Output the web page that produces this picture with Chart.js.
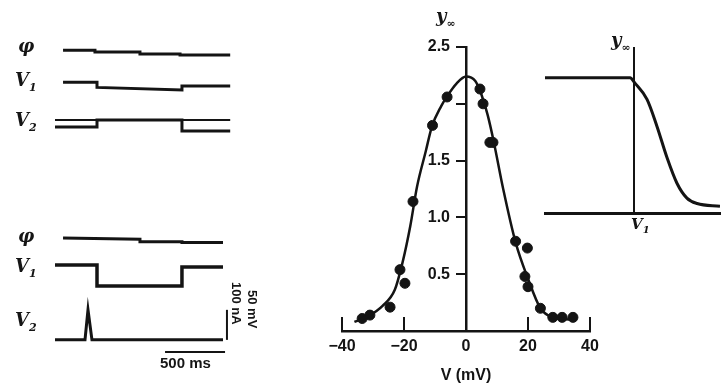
<!DOCTYPE html>
<html>
<head>
<meta charset="utf-8">
<script src="https://cdn.jsdelivr.net/npm/chart.js@4.4.1/dist/chart.umd.min.js"></script>
<style>
  body { margin: 0; background: #fff; }
  #fig { position: relative; width: 728px; height: 389px; background: #fff; overflow: hidden; }
  #fig canvas { position: absolute; }
  .lbl { position: absolute; color: #151515; font-family: 'DejaVu Serif', serif; font-weight: bold; white-space: nowrap; }
  .it { font-style: italic; font-size: 18px; }
  .vert { writing-mode: vertical-rl; font-family: 'Liberation Sans', sans-serif; font-size: 13px; }
</style>
</head>
<body>
<div id="fig">
  <canvas id="traces" width="275" height="389" style="left:0;top:0"></canvas>
  <canvas id="main" width="320" height="389" style="left:300px;top:0"></canvas>
  <canvas id="inset" width="198" height="210" style="left:530px;top:30px"></canvas>

  <div class="lbl it" style="left:18px;top:35px">φ</div>
  <div class="lbl it" style="left:15px;top:69px">V<sub style="font-size:11px">1</sub></div>
  <div class="lbl it" style="left:15px;top:109px">V<sub style="font-size:11px">2</sub></div>
  <div class="lbl it" style="left:18px;top:225px">φ</div>
  <div class="lbl it" style="left:15px;top:255px">V<sub style="font-size:11px">1</sub></div>
  <div class="lbl it" style="left:15px;top:309px">V<sub style="font-size:11px">2</sub></div>
  <div class="lbl vert" style="left:229px;top:282px">100 nA</div>
  <div class="lbl vert" style="left:245px;top:290px">50 mV</div>
  <div class="lbl" style="left:160px;top:354px;font-family:'Liberation Sans',sans-serif;font-size:15px">500 ms</div>

  <div class="lbl it" style="left:436px;top:5px">y<sub style="font-size:11px">∞</sub></div>
  <div class="lbl it" style="left:611px;top:29px">y<sub style="font-size:11px">∞</sub></div>
  <div class="lbl it" style="left:631px;top:215px;font-size:15px">V<sub style="font-size:10px">1</sub></div>
</div>

<script>
// ---- left: recorded traces (time in ms, values in arbitrary display units)
const phiTopT = [67, 333, 333, 708, 708, 1042, 1042, 1460];
const phiTopV = [93.9, 93.9, 93.3, 93.3, 92.7, 92.7, 92.4, 92.4];
const v1TopT = [67, 350, 350, 1058, 1058, 1460];
const v1TopV = [84.2, 84.2, 82.6, 81.8, 83.0, 83.0];
const v2TopBaseT = [0, 1460];
const v2TopBaseV = [72.7, 72.7];
const v2TopT = [0, 350, 350, 1058, 1058, 1460];
const v2TopV = [70.6, 70.6, 72.7, 72.7, 69.4, 69.4];

const phiBotT = [67, 708, 708, 1058, 1058, 1400];
const phiBotV = [37.0, 36.6, 35.8, 35.8, 35.6, 35.6];
const v1BotT = [0, 350, 350, 1058, 1058, 1400];
const v1BotV = [28.8, 28.8, 22.4, 22.4, 28.2, 28.2];
const v2BotT = [0, 250, 275, 308, 1400];
const v2BotV = [6.1, 6.1, 15.2, 6.1, 6.1];

// scale bars: 500 ms and 100 nA / 50 mV
const barTimeT = [917, 1417];
const barTimeV = [2.4, 2.4];
const barAmpT = [1433, 1433];
const barAmpV = [6.1, 15.2];

// ---- middle: steady-state y∞ against V
const ptsV = [-33.5, -31, -24.5, -21.3, -19.7, -17.1, -10.8, -6.1,
              4.5, 5.5, 7.7, 8.7, 16, 19.8, 19, 20, 24, 28, 31, 34.5];
const ptsY = [0.11, 0.14, 0.21, 0.54, 0.42, 1.14, 1.81, 2.06,
              2.13, 2.0, 1.66, 1.66, 0.79, 0.73, 0.48, 0.39, 0.20, 0.12, 0.12, 0.12];
const curveV = [-36, -31, -27, -23, -20.5, -18, -15.8, -13, -11, -8, -6, -3, 0,
                3, 5, 7, 9, 12, 16, 20, 24, 28, 34];
const curveY = [0.08, 0.14, 0.22, 0.36, 0.6, 0.92, 1.27, 1.58, 1.8, 1.98, 2.07, 2.18, 2.24,
                2.2, 2.08, 1.9, 1.66, 1.25, 0.78, 0.46, 0.2, 0.12, 0.1];
const xTicks = [-40, -20, 0, 20, 40];
const yTicks = [0.5, 1.0, 1.5, 2.0, 2.5];
const yLabelled = [0.5, 1.0, 1.5, 2.5];

// ---- right: sketch of y∞ falling past V1
const insetV = [0, 48.6, 51.4, 58.3, 64, 69.7, 75.4, 81.1, 86.9, 100];
const insetY = [1.0, 1.0, 0.96, 0.84, 0.64, 0.41, 0.22, 0.11, 0.07, 0.05];
const V1 = 51;

const ink = '#141414';
const pairs = (xs, ys) => xs.map((x, i) => ({ x: x, y: ys[i] }));

function trace(xs, ys, w) {
    return { type: 'line', data: pairs(xs, ys), borderColor: ink, borderWidth: w || 2.5,
             pointRadius: 0, tension: 0, fill: false };
}

new Chart(document.getElementById('traces').getContext('2d'), {
    type: 'line',
    data: {
        datasets: [
            trace(phiTopT, phiTopV, 3),
            trace(v1TopT, v1TopV, 3),
            trace(v2TopBaseT, v2TopBaseV, 2),
            trace(v2TopT, v2TopV, 3),
            trace(phiBotT, phiBotV, 3),
            trace(v1BotT, v1BotV, 3.5),
            trace(v2BotT, v2BotV, 3),
            trace(barTimeT, barTimeV, 2),
            trace(barAmpT, barAmpV, 2)
        ]
    },
    options: {
        responsive: false,
        animation: false,
        layout: { padding: { left: 55, right: 4, top: 30, bottom: 29 } },
        plugins: { legend: { display: false }, tooltip: { enabled: false } },
        scales: {
            x: { type: 'linear', display: false, min: 0, max: 1800 },
            y: { type: 'linear', display: false, min: 0, max: 100 }
        }
    }
});

// inward tick marks on the x axis, as in the figure
const inwardTicks = {
    id: 'inwardTicks',
    afterDatasetsDraw(chart) {
        const xs = chart.scales.x, ys = chart.scales.y;
        const ctx = chart.ctx;
        const base = ys.getPixelForValue(0);
        ctx.save();
        ctx.strokeStyle = ink;
        ctx.lineWidth = 2;
        xTicks.forEach(v => {
            if (v === 0) return;
            const px = xs.getPixelForValue(v);
            ctx.beginPath();
            ctx.moveTo(px, base);
            ctx.lineTo(px, base - 14);
            ctx.stroke();
        });
        ctx.restore();
    }
};

const tickFont = { family: "'Liberation Sans', sans-serif", size: 16, weight: 'bold' };

new Chart(document.getElementById('main').getContext('2d'), {
    type: 'scatter',
    data: {
        datasets: [
            { type: 'line', data: pairs(curveV, curveY), borderColor: ink, borderWidth: 2.5,
              pointRadius: 0, cubicInterpolationMode: 'monotone', fill: false },
            { data: pairs(ptsV, ptsY), backgroundColor: ink, borderColor: ink,
              pointRadius: 5 }
        ]
    },
    options: {
        responsive: false,
        animation: false,
        layout: { padding: { left: 42, right: 30, top: 47, bottom: 0 } },
        plugins: { legend: { display: false }, tooltip: { enabled: false } },
        scales: {
            x: {
                type: 'linear', min: -40, max: 40,
                afterFit: s => { s.height = 58; },
                afterBuildTicks: s => { s.ticks = xTicks.map(v => ({ value: v })); },
                grid: { display: false, drawTicks: false },
                border: { display: true, color: ink, width: 2.5 },
                ticks: {
                    color: ink, font: tickFont, padding: 6,
                    callback: v => (v < 0 ? '\u2212' + Math.abs(v) : String(v))
                },
                title: { display: true, text: 'V (mV)', color: ink, font: tickFont, padding: { top: 1 } }
            },
            y: {
                type: 'linear', min: 0, max: 2.5,
                position: { x: 0 },
                afterBuildTicks: s => { s.ticks = yTicks.map(v => ({ value: v })); },
                grid: { drawOnChartArea: false, drawTicks: true, tickLength: 9, color: ink, lineWidth: 2 },
                border: { display: true, color: ink, width: 2.5 },
                ticks: {
                    color: ink, font: tickFont,
                    // a centred axis sets its labels flush to the line; pad them off it
                    callback: v => (yLabelled.includes(v) ? v.toFixed(1) + '\u2002\u2002' : '')
                }
            }
        }
    },
    plugins: [inwardTicks]
});

new Chart(document.getElementById('inset').getContext('2d'), {
    type: 'line',
    data: {
        datasets: [
            { data: pairs(insetV, insetY), borderColor: ink, borderWidth: 3,
              pointRadius: 0, cubicInterpolationMode: 'monotone', fill: false }
        ]
    },
    options: {
        responsive: false,
        animation: false,
        layout: { padding: { left: 15, right: 8, top: 18, bottom: 27 } },
        plugins: { legend: { display: false }, tooltip: { enabled: false } },
        scales: {
            x: {
                type: 'linear', min: 0, max: 100,
                afterFit: s => { s.height = 0; },
                grid: { display: false, drawTicks: false },
                ticks: { display: false },
                border: { display: true, color: ink, width: 3 }
            },
            y: {
                type: 'linear', min: 0, max: 1.22,
                position: { x: V1 },
                afterFit: s => { s.width = 0; },
                grid: { display: false, drawTicks: false },
                ticks: { display: false },
                border: { display: true, color: ink, width: 2 }
            }
        }
    }
});
</script>
</body>
</html>
